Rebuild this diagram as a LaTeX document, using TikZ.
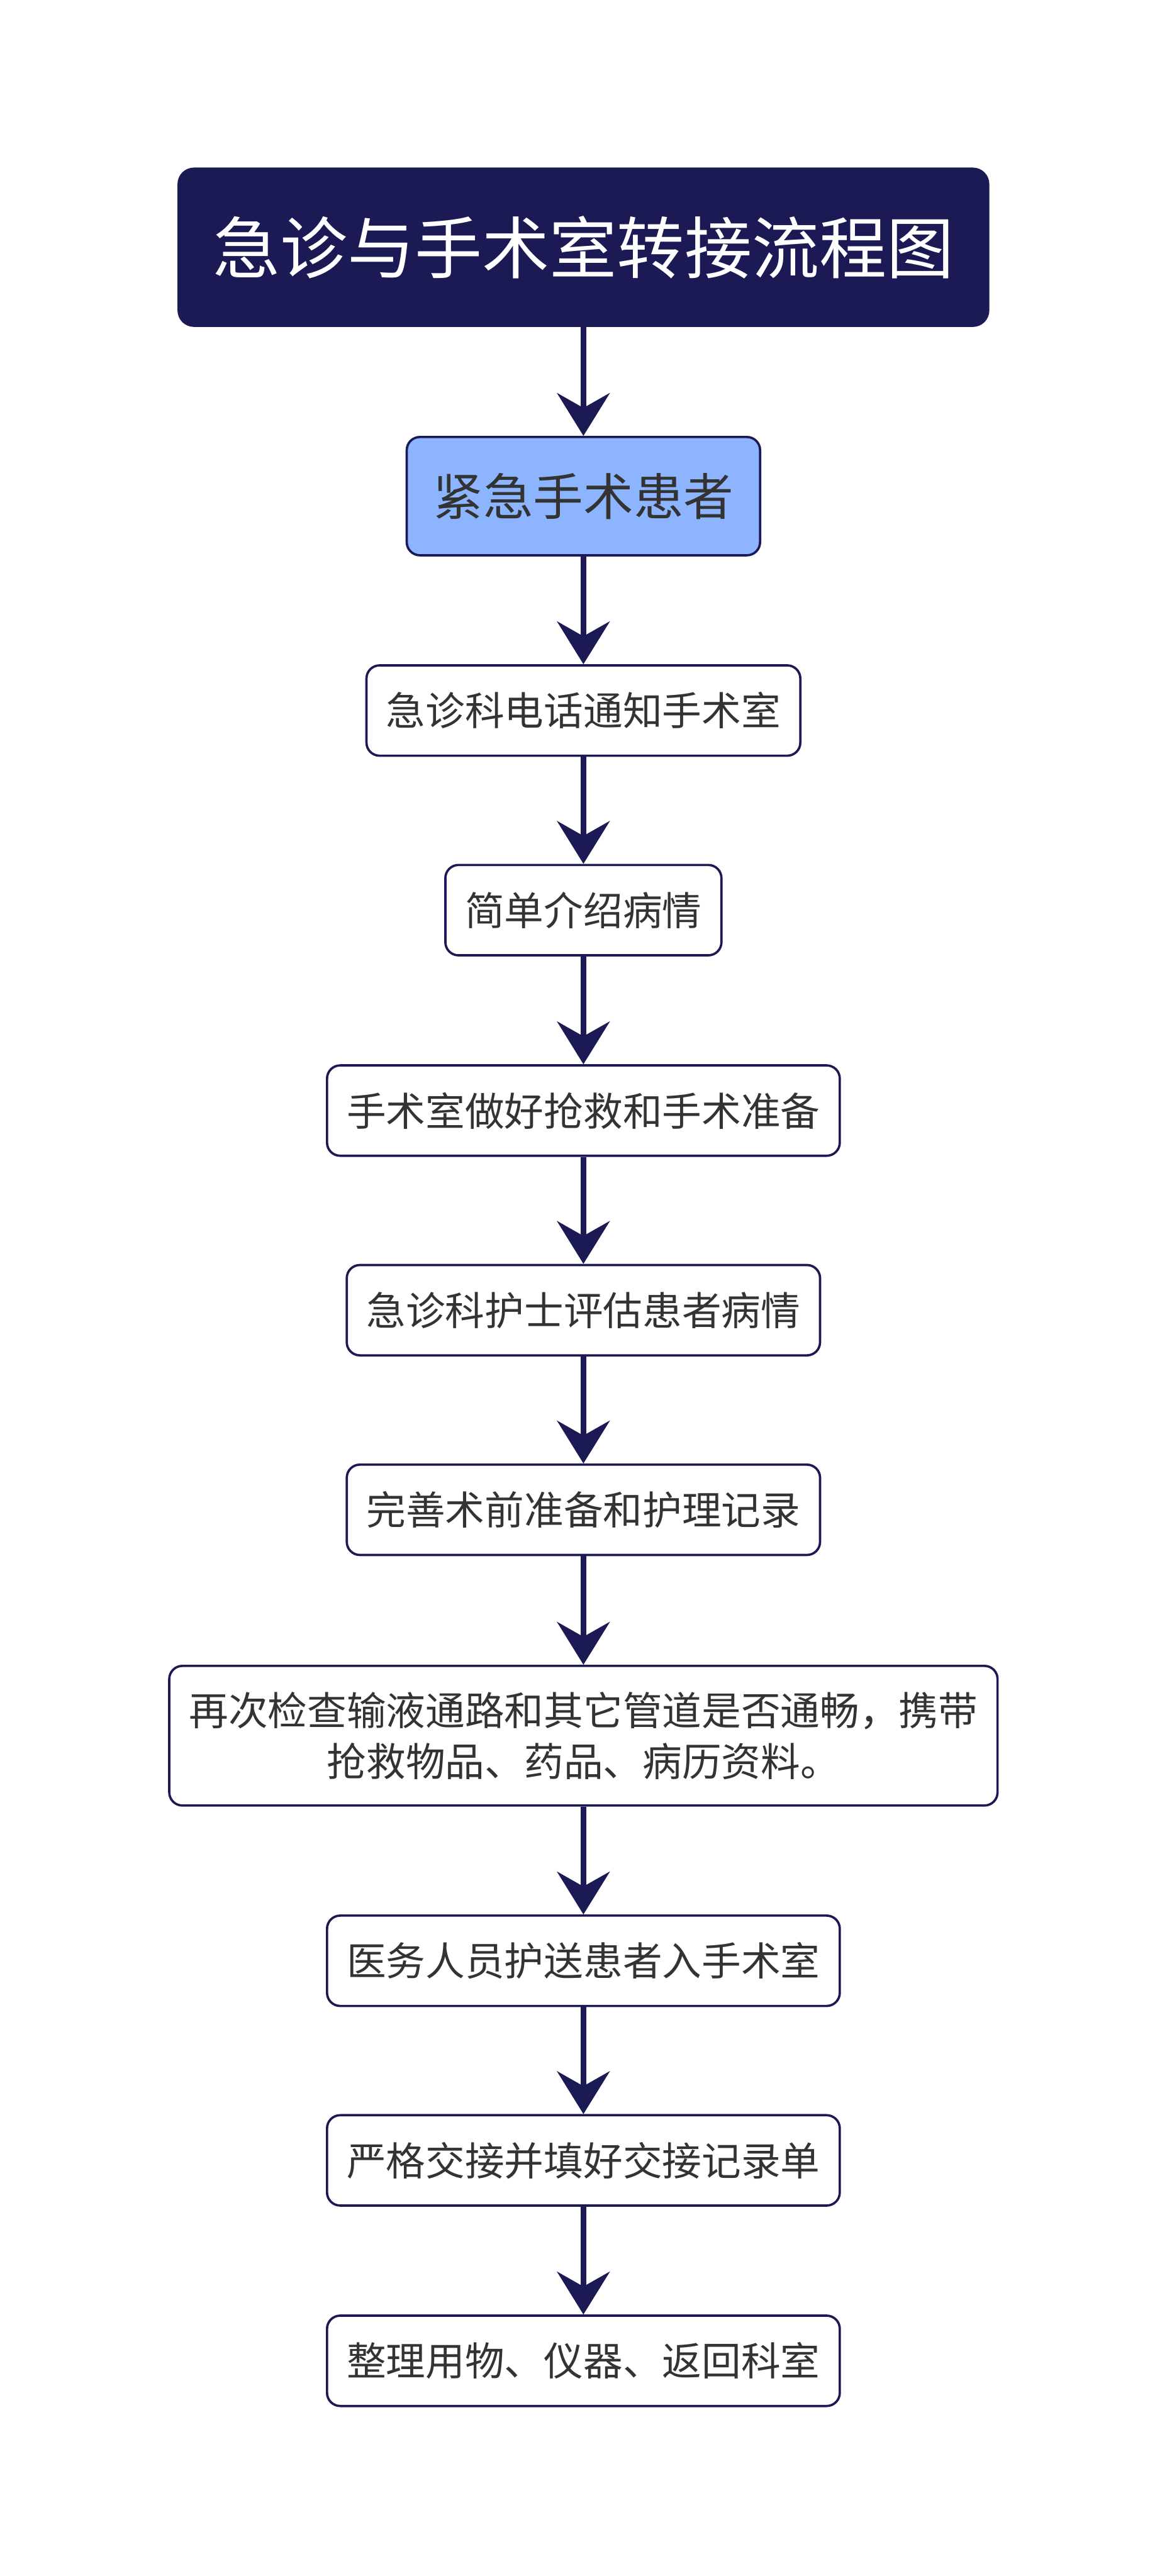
\documentclass[tikz,border=0pt]{standalone}
\usepackage{fontspec}
\setmainfont{Noto Sans CJK SC}
\usetikzlibrary{arrows.meta}
\definecolor{navy}{HTML}{1B1A55}
\definecolor{lightblue}{HTML}{8DB5FF}
\definecolor{textgray}{HTML}{333333}

\begin{document}
\begin{tikzpicture}[x=1pt, y=-1pt,
    stepbox/.style={draw=navy, line width=1.4pt, fill=white, rounded corners=8pt,
        text=textgray, font=\fontsize{24}{31}\selectfont, inner xsep=12pt,
        minimum height=55pt, align=center},
    titlebox/.style={fill=navy, rounded corners=10pt, text=white,
        font=\fontsize{41}{48}\selectfont, minimum width=494pt, minimum height=97pt},
    startbox/.style={stepbox, fill=lightblue, font=\fontsize{30.5}{36}\selectfont,
        inner xsep=16pt, minimum height=72pt},
    flow/.style={draw=navy, line width=3.5pt,
        -{Stealth[length=26pt, width=32pt, inset=9pt]}}]
    \useasboundingbox (0,0) rectangle (710,1568);

    \node[titlebox] (title) at (355,150.5) {急诊与手术室转接流程图};
    \node[startbox] (patient) at (355,302) {紧急手术患者};
    \node[stepbox] (call) at (355,432.5) {急诊科电话通知手术室};
    \node[stepbox] (brief) at (355,554) {简单介绍病情};
    \node[stepbox] (ready) at (355,676) {手术室做好抢救和手术准备};
    \node[stepbox] (assess) at (355,797.5) {急诊科护士评估患者病情};
    \node[stepbox] (record) at (355,919) {完善术前准备和护理记录};
    \node[stepbox, minimum height=85pt] (check) at (355,1056.5)
        {再次检查输液通路和其它管道是否通畅，携带\\抢救物品、药品、病历资料。};
    \node[stepbox] (escort) at (355,1193.5) {医务人员护送患者入手术室};
    \node[stepbox] (handover) at (355,1315) {严格交接并填好交接记录单};
    \node[stepbox] (tidy) at (355,1437) {整理用物、仪器、返回科室};

    \foreach \a/\b in {title/patient, patient/call, call/brief, brief/ready,
        ready/assess, assess/record, record/check, check/escort,
        escort/handover, handover/tidy}
        \draw[flow] (\a) -- (\b);
\end{tikzpicture}
\end{document}
